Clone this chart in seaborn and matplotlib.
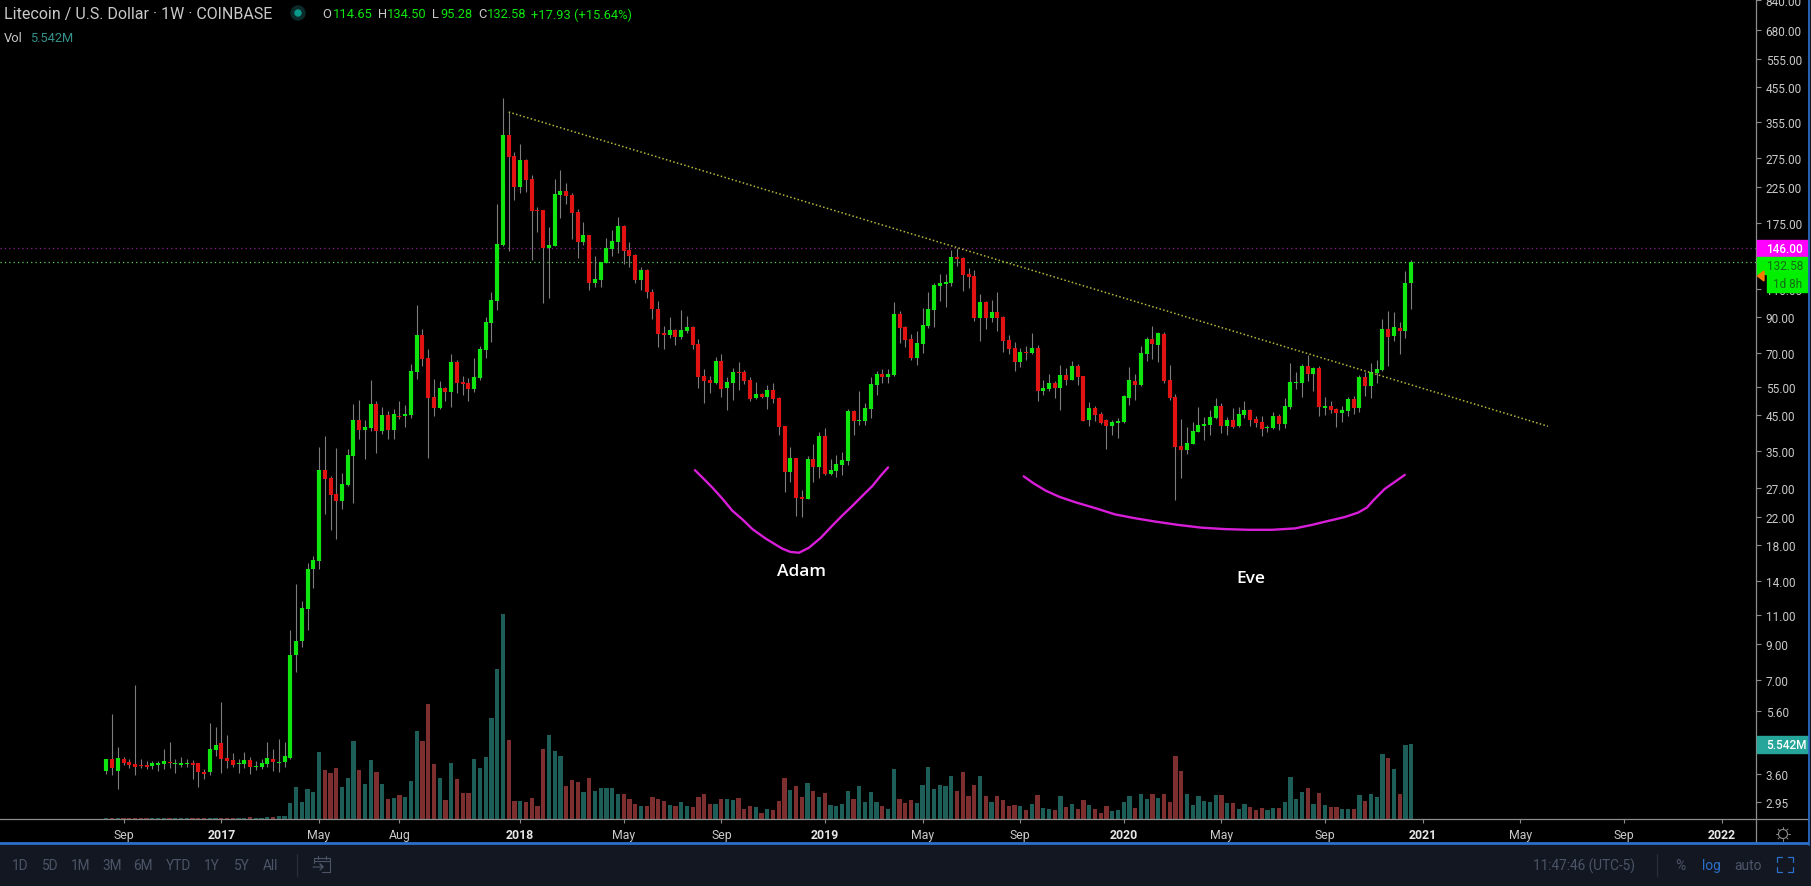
import matplotlib
matplotlib.use("Agg")
import matplotlib.pyplot as plt
import numpy as np
import pandas as pd
import seaborn as sns
from matplotlib.patches import Rectangle, Polygon, Circle

# weekly candles
opens = [3.68,4.00,3.68,4.00,3.92,3.86,3.83,3.83,3.80,3.83,
    3.86,3.92,3.86,3.83,3.86,3.89,3.89,3.65,3.65,4.26,
    4.48,4.03,3.97,3.86,3.86,3.97,3.78,3.78,3.86,4.00,
    3.89,3.92,4.04,8.3,9.2,11.5,15.2,16.1,30.6,28.9,
    25.9,24.6,27.5,33.8,43.5,40.5,41.1,48.6,40.2,45.1,
    40.5,44.9,44.9,45.1,61.0,79.2,67.4,51.2,47.3,54.5,
    53.0,65.5,56.9,56.5,54.1,58.5,71.3,86.2,100.6,149.3,
    324,279.9,224.9,272,238,191.2,191,146,148,213,
    219,213,189,153,160,114,117,132,145,153,
    171,144,139,117,125,107,95,80.4,79.3,82.2,
    78.2,81.6,83.9,74.4,59.4,57.7,56.5,66,54.5,56.5,
    61.1,61.1,57.7,50.8,52.3,51.2,53.8,50.8,41.7,30.2,
    33.3,25.3,25,33.1,31.3,38.9,29.8,30.4,31.7,32.6,
    46.4,43.2,43.2,47,55.7,60.2,58.9,59.8,91.9,83.9,
    77.1,67.4,74.4,84.4,94.6,112,113.5,114.3,137.3,136.4,
    121.8,120.1,89.4,100,89.4,93.2,90,76.5,72.3,65.5,
    70.3,69.8,72.3,53.4,54.2,56.5,54.5,59.8,57.7,63.7,
    59.4,43.5,47.4,45.4,43.5,41.7,42.6,42.9,50.9,57.3,
    55.7,69.3,77.1,73.9,79.8,57.7,51.2,36.2,35.2,36.8,
    40,41.7,42,44.1,48.1,41.7,43.5,41.7,45.1,46.7,
    43.8,42.9,41.2,41.2,44.8,42.3,47.7,56.5,56.5,63.7,
    60.2,62.8,47.4,48.1,47,45.7,46.4,50.5,47.4,59,
    55.3,60.6,61.9,82.7,78.7,83.3,81.5,114.65]
highs = [4.00,5.49,4.34,4.06,4.00,6.74,4.00,3.94,3.94,3.94,
    4.28,4.51,4.00,4.06,4.00,3.97,3.89,3.73,5.16,5.01,
    5.98,4.74,4.17,4.00,4.20,4.06,3.94,4.00,4.51,4.28,
    4.60,4.51,9.9,13.7,12.2,15.9,16.7,36.0,38.9,29.3,
    35.8,30.0,35.5,48.9,50.1,43.5,57.7,49.8,47.9,46.4,
    47.0,49.8,48.3,64.5,97.8,82.6,71.8,58.1,57.3,54.9,
    69.3,66.4,59.3,58.5,67.4,73.3,89.9,107.2,199.4,421.1,
    380.7,287.9,304.5,274,244.8,195.4,191,170,238,253,
    232,216,192,176,160,138,133,157,166,182,
    172,153,140,128,126,110,101,84.4,90,82.8,
    94.6,90.6,84.4,77.1,62.4,59.4,67.9,69.3,58.9,62.8,
    65.5,61.9,58.9,56.9,52.6,55.7,56.5,51.2,41.7,36,
    33.3,26.6,33.8,36.8,40,41.1,33.1,34,34.8,47,
    46.7,53.4,49.1,58.9,61.5,62.4,62.4,100,93.9,84.4,
    79.9,81.6,95.9,107.3,114.4,121.8,121.8,144.3,146.3,137.3,
    127.1,125.3,105.8,100.7,101.4,107.3,90.6,79.3,75.4,72.3,
    73.3,80.4,73.9,57.7,60.2,57.3,64.2,62.8,66,64.6,
    59.4,49.5,48.1,46.1,43.8,43.5,44.1,51.9,63.2,60.2,
    73.3,78.2,84.5,81,81,64.2,52.3,43.8,41.4,42.9,
    47.7,44.4,46.7,50.9,49.1,44.4,47.4,47.7,49.8,47,
    44.8,44.8,42,46.1,45.4,50.9,65.1,61.1,64.6,68.8,
    63.2,63.7,51.2,49.8,47.4,48.1,51.2,51.6,59.8,61.1,
    65.1,66.5,88.7,93.9,93.2,86.9,124.4,134.5]
lows = [3.60,3.57,3.24,3.83,3.75,3.57,3.75,3.73,3.73,3.68,
    3.73,3.75,3.63,3.78,3.78,3.47,3.28,3.47,3.57,4.08,
    3.63,3.75,3.78,3.63,3.75,3.60,3.70,3.73,3.78,3.68,
    3.65,3.78,3.99,7.4,8.8,9.9,13.3,15.3,22.4,20.1,
    18.9,23.2,27.3,24.2,38.0,33.0,40.2,34.5,39.4,38.0,
    38.0,43.8,41.4,44.1,58.1,63.7,33.3,44.8,47.0,49.8,
    47.7,52.6,51.9,49.8,53.0,57.7,67.4,75.4,94.5,148.4,
    143.3,205.2,215.6,217.2,134.5,163.4,99.3,103,148,181,
    200,156,136,149,109,111,111,132,138,141,
    131,128,114,109,103,89,73,71.8,77.6,73.9,
    77.1,80.4,71.8,54.5,49.1,52.6,56.1,51.2,46.7,50.1,
    53.8,56.1,49.8,50.5,50.8,47,49.1,39.2,26.2,28.1,
    22.1,22,25,28.1,28.9,29.5,29.5,29.1,29.5,31.7,
    39.2,42,42,44.2,51.9,56.5,56.5,59.4,74.9,72.8,
    66.5,64.2,69.8,83.3,83.9,100.7,96.6,112,128.9,108.1,
    110.4,87.5,76,82.7,86.9,81.5,70.3,69.3,61.5,63.2,
    66.5,69.3,49.8,51.9,53.4,50.9,46.7,55.7,57.7,55.7,
    43.2,41.7,43.2,42.3,35.5,39.2,38.4,42.6,48.4,50.2,
    55.3,66,66.9,65.5,56.5,50.2,24.8,28.9,34.2,36.8,
    40,37.8,39.2,43.8,39.7,39.2,41.2,41.4,44.1,41.7,
    41.4,38.9,40,40.9,40.6,41.2,47,54.2,51.2,57.3,
    53.4,44.8,45.1,45.7,41.4,42.9,44.8,45.4,46.1,51.6,
    50.9,56.5,61.5,63.7,76,69.3,77.6,95.28]
closes = [4.00,3.75,4.03,3.89,3.83,3.78,3.80,3.78,3.89,3.89,
    3.94,3.89,3.89,3.89,3.89,3.83,3.65,3.60,4.29,4.41,
    4.00,3.94,3.83,3.89,3.97,3.78,3.80,3.89,4.03,3.92,
    3.92,4.08,8.3,9.2,11.6,15.3,16.2,30.6,28.7,25.7,
    24.6,27.7,34.0,43.5,40.6,41.4,48.6,40.2,45.1,40.5,
    45.4,44.6,45.4,61.5,79.2,66.9,50.8,47.3,54.5,53.0,
    65.5,56.5,56.1,54.1,58.9,71.8,86.8,101.4,150.4,324.4,
    277.9,224.9,272.1,236.3,189.9,189.9,146,149,214,219,
    211,187,153,160,114,117.6,133,146,154,171,
    143,138,117,125,107,95,80,79.3,82.2,78.2,
    82.2,83.9,73.9,58.9,57.3,56.5,66,54.2,56.9,61.1,
    60.6,57.3,50.5,52.3,51.2,53.8,50.5,41.4,30.2,33.3,
    25.1,25,33.1,31.3,38.9,29.8,30.6,31.9,32.9,46.4,
    43.2,43.6,47.4,56.1,60.2,58.9,60.2,91.9,83.3,76.5,
    67.4,74.9,85.1,95.2,112.7,114.4,115.1,137.3,135.4,121,
    119.3,89.4,100,89.4,93.2,89.4,76,71.8,65.5,70.3,
    69.8,72.3,53.4,54.5,56.5,54.5,59.8,57.7,63.7,59,
    43.2,47.4,45.1,42.6,41.7,42.9,43.2,51.6,57.7,55.7,
    69.8,77.1,74.4,80.4,57.3,50.9,36,35.2,37,40.3,
    42,42.3,44.4,48.1,41.7,43.5,41.4,45.4,46.7,43.5,
    42.6,40.9,41.4,44.8,42.3,48.1,56.9,56.9,63.7,60.2,
    62.8,47.7,48.1,46.7,45.7,46.7,50.5,47.4,59,55.3,
    61.1,62.4,82.7,78.2,83.9,81.5,114.3,132.58]
volumes = [.07,.07,.05,.07,.07,.07,.05,.05,.05,.05,
    .05,.05,.05,.07,.05,.05,.07,.07,.07,.07,
    .07,.05,.07,.07,.07,.17,.07,.1,.15,.17,
    .25,.25,1.21,2.39,1.28,2.24,2.02,4.98,3.65,3.42,
    3.79,2.39,3.05,5.79,3.65,2.61,4.38,3.5,2.61,1.5,
    1.58,1.8,1.65,2.83,6.53,5.79,8.52,4.09,3.05,1.43,
    4.16,2.98,1.95,1.95,4.46,3.79,4.61,7.49,11.11,15.17,
    5.86,1.35,1.35,1.28,1.58,.99,5.2,6.23,5.05,4.68,
    2.46,2.91,2.76,2.02,3.05,2.09,2.32,2.32,2.32,1.87,
    1.87,1.5,1.13,.99,.99,1.65,1.5,1.35,1.06,.99,
    1.28,.99,.91,1.65,1.87,1.13,1.13,1.5,1.5,1.43,
    1.58,.76,.99,.91,.47,.76,.69,1.35,3.05,2.17,
    2.46,1.65,2.68,2.09,1.65,1.95,1.06,.99,1.13,2.09,
    1.5,2.46,1.28,2.02,1.28,.99,.76,3.72,1.5,1.21,
    1.43,1.21,2.54,3.87,2.24,2.54,2.46,3.2,2.09,3.5,
    1.72,2.54,3.2,1.72,1.28,1.72,1.43,.99,1.06,.99,
    .69,1.13,1.8,.84,.76,.69,1.72,.91,1.13,.76,
    1.43,1.06,.76,.47,.99,.62,.69,1.28,1.72,.84,
    1.87,1.5,1.87,1.58,1.87,1.28,4.68,3.57,1.87,1.06,
    1.72,1.35,1.28,1.8,1.8,1.21,1.21,.76,1.13,.91,
    .69,.84,.69,.84,.84,1.28,3.13,1.5,2.02,2.32,
    1.13,1.95,1.06,.91,.91,.76,.76,.76,1.8,1.35,
    1.87,1.65,4.83,4.53,3.72,1.87,5.49,5.542]

price_ticks = [840, 680, 555, 455, 355, 275, 225, 175, 110, 90, 70, 55, 45, 35, 27, 22, 18, 14, 11, 9, 7, 5.6, 3.6, 2.95]
week_ticks = [4, 21, 38, 52, 73, 91, 108, 126, 143, 160, 178, 195, 213, 230, 247, 265, 282]
week_labels = ["Sep", "2017", "May", "Aug", "2018", "May", "Sep", "2019", "May", "Sep", "2020", "May", "Sep", "2021", "May", "Sep", "2022"]

# drawings on top of the chart
trend_week = [71, 251.8]
trend_price = [381.5, 41.7]
adam_week = [103.4, 105, 106.4, 108.2, 109.9, 111.7, 113.4, 115.7, 118.6, 120, 121.5, 123.2, 125.3, 127.3, 129, 130.8, 132.5, 134.3, 135.7, 137]
adam_price = [30.6, 28.7, 27.1, 25, 23, 21.6, 20.2, 18.9, 17.6, 17.2, 17.1, 17.7, 19, 20.7, 22.2, 23.8, 25.5, 27.4, 29.4, 31.2]
eve_week = [160.6, 162.3, 164.4, 166.7, 169.6, 173.1, 176.5, 180, 183.5, 187.5, 191.6, 195.6, 199.7, 203.8, 207.8, 210.7, 213.6, 216.5, 218.8, 220.3, 221.4, 223.4, 225.2, 226.9]
eve_price = [29.3, 27.9, 26.5, 25.4, 24.4, 23.4, 22.4, 21.8, 21.3, 20.8, 20.4, 20.2, 20.1, 20.1, 20.3, 20.8, 21.4, 22, 22.7, 23.5, 24.7, 26.8, 28.2, 29.6]
line_high = 146.0
line_last = 132.58

W, H = 1811, 887
GREEN = "#0fe60f"
RED = "#e01212"
MAGENTA = "#d81ed8"
GREY_TXT = "#c9c9c9"
BAR_TXT = "#4c5567"
BLUE = "#2a6fc9"

sns.set_theme(style="dark", rc={"figure.facecolor": "black", "axes.facecolor": "black"})
plt.rcParams["font.family"] = ["Roboto", "DejaVu Sans"]

df = pd.DataFrame({"week": np.arange(1, len(opens) + 1), "open": opens, "high": highs,
                   "low": lows, "close": closes, "volume": volumes})
df["side"] = np.where(df["close"] >= df["open"], "up", "down")

fig = plt.figure(figsize=(W / 100, H / 100), dpi=100)
rect = [0, (H - 820) / H, 1756 / W, 820 / H]
xlim = (-17.5, 288)

# volume pane sits under the candles
ax_vol = fig.add_axes(rect)
sns.barplot(data=df, x="week", y="volume", hue="side", palette={"up": "#1d5e58", "down": "#7c2f2e"},
            native_scale=True, dodge=False, width=0.74, legend=False, saturation=1,
            linewidth=0, edgecolor="none", ax=ax_vol)
ax_vol.set_xlim(xlim)
ax_vol.set_ylim(0, 60.6)
ax_vol.axis("off")

ax = fig.add_axes(rect)
ax.patch.set_visible(False)
ax.set_yscale("log")
ax.set_xlim(xlim)
ax.set_ylim(2.62, 846)

ax.vlines(df["week"], df["low"], df["high"], color="#7d7d7d", lw=0.8, zorder=2)
body_colors = [GREEN if s == "up" else RED for s in df["side"]]
ax.vlines(df["week"], df["open"], df["close"], colors=body_colors, lw=3.0, zorder=3)

ax.axhline(line_high, color="#8c1f8c", lw=0.9, ls=(0, (1, 2.5)), zorder=1)
ax.axhline(line_last, color="#5fd35f", lw=0.9, ls=(0, (1, 2.5)), zorder=1)
sns.lineplot(x=trend_week, y=trend_price, color="#b5b53c", lw=1.1, ls=(0, (1, 1.5)), ax=ax, zorder=4)
sns.lineplot(x=adam_week, y=adam_price, color=MAGENTA, lw=1.7, sort=False, estimator=None, ax=ax, zorder=4)
sns.lineplot(x=eve_week, y=eve_price, color=MAGENTA, lw=1.7, sort=False, estimator=None, ax=ax, zorder=4)

ax.text(122, 15.0, "Adam", color="white", fontsize=12.5, fontweight="semibold", family="Open Sans", ha="center", va="center")
ax.text(200.2, 14.3, "Eve", color="white", fontsize=12.5, fontweight="semibold", family="Open Sans", ha="center", va="center")

ax.yaxis.tick_right()
ax.set_yticks(price_ticks)
ax.set_yticklabels([f"{p:.2f}" for p in price_ticks])
ax.minorticks_off()
ax.set_xticks(week_ticks)
ax.set_xticklabels(week_labels)
ax.tick_params(axis="y", colors="#8c8c8c", labelcolor=GREY_TXT, labelsize=8.5, length=3.5, width=0.8, pad=3.5, right=True)
ax.tick_params(axis="x", colors="#8c8c8c", labelcolor=GREY_TXT, labelsize=8.8, length=3, width=0.8, pad=3.5, bottom=True)
for lab, name in zip(ax.get_xticklabels(), week_labels):
    if name.isdigit():
        lab.set_fontweight("bold")
        lab.set_color("#e6e6e6")
ax.set_xlabel("")
ax.set_ylabel("")
for side in ["top", "left"]:
    ax.spines[side].set_visible(False)
for side in ["bottom", "right"]:
    ax.spines[side].set_color("#8c8c8c")
    ax.spines[side].set_linewidth(0.9)

# chrome around the chart in pixel coordinates
ui = fig.add_axes([0, 0, 1, 1], zorder=10)
ui.set_xlim(0, W)
ui.set_ylim(H, 0)
ui.axis("off")
ui.patch.set_visible(False)

# header
ui.text(4, 15, "Litecoin / U.S. Dollar · 1W · COINBASE", color=GREY_TXT, fontsize=11.5, va="center")
ui.add_patch(Circle((298, 14), 7, color="#0c2a2a"))
ui.add_patch(Circle((298, 14), 3, color="#0a9a8c"))
for x, s, c in [(322, "O", GREY_TXT), (333, "114.65", GREEN), (378, "H", GREY_TXT), (387, "134.50", GREEN),
                (432, "L", GREY_TXT), (440, "95.28", GREEN), (478, "C", GREY_TXT), (487, "132.58", GREEN),
                (531, "+17.93 (+15.64%)", GREEN)]:
    ui.text(x, 15, s, color=c, fontsize=9.3, va="center")
ui.text(4, 39, "Vol", color=GREY_TXT, fontsize=9.3, va="center")
ui.text(30, 39, "5.542M", color="#36918a", fontsize=9.3, va="center")

# price labels on the right scale
ui.add_patch(Rectangle((1757, 241), 50, 17, color="#ff00ff"))
ui.text(1766, 249.5, "146.00", color="white", fontsize=8.5, va="center", fontweight="medium")
ui.add_patch(Rectangle((1757, 258), 50, 17, color="#00f000"))
ui.text(1767, 266.5, "132.58", color="#146b14", fontsize=8.5, va="center")
ui.add_patch(Rectangle((1767, 276), 40, 17, color="#00f000"))
ui.text(1773, 284.5, "1d 8h", color="#146b14", fontsize=8.5, va="center")
ui.add_patch(Polygon([[1757.5, 277], [1764, 272], [1764, 282]], color="#f57c00"))
ui.add_patch(Rectangle((1757, 737), 51, 17, color="#26a69a"))
ui.text(1766, 745.5, "5.542M", color="white", fontsize=8.5, va="center", fontweight="medium")

# sun icon
ui.add_patch(Circle((1783, 835), 4.5, fill=False, ec="#8c8c8c", lw=0.8))
for a in np.arange(0, 2 * np.pi, np.pi / 4):
    ui.plot([1783 + 5 * np.cos(a), 1783 + 7 * np.cos(a)], [835 + 5 * np.sin(a), 835 + 7 * np.sin(a)], color="#8c8c8c", lw=0.7)

# frame and toolbar
ui.plot([1756, 1756], [820, 844], color="#8c8c8c", lw=0.9)
ui.plot([1756, 1808], [820, 820], color="#8c8c8c", lw=0.9)
ui.add_patch(Rectangle((0, 845), W, 42, color="#131722", zorder=1))
ui.plot([0, 1809], [844.5, 844.5], color=BLUE, lw=2, zorder=2)
ui.plot([1809, 1809], [0, 845], color=BLUE, lw=2, zorder=2)
ui.add_patch(Rectangle((1810, 0), 1, 887, color="#131722", zorder=2))

for x, s in [(20, "1D"), (50, "5D"), (81, "1M"), (112, "3M"), (143, "6M"), (178, "YTD"), (212, "1Y"), (242, "5Y"), (271, "All")]:
    ui.text(x, 866, s, color=BAR_TXT, fontsize=9.8, ha="center", va="center", zorder=3)
ui.plot([297, 297], [855, 877], color="#2a2e39", lw=0.9, zorder=3)
ui.plot([1657, 1657], [855, 877], color="#2a2e39", lw=0.9, zorder=3)

# go-to-date icon
ui.plot([314, 330, 330, 322], [859, 859, 873, 873], color=BAR_TXT, lw=0.8, zorder=3)
ui.plot([314, 314], [859, 864], color=BAR_TXT, lw=0.8, zorder=3)
ui.plot([314, 330], [862, 862], color=BAR_TXT, lw=0.8, zorder=3)
ui.plot([318, 318], [857, 860], color=BAR_TXT, lw=0.8, zorder=3)
ui.plot([326, 326], [857, 860], color=BAR_TXT, lw=0.8, zorder=3)
ui.plot([313, 323, 320, 323, 320], [868, 868, 865, 868, 871], color=BAR_TXT, lw=0.8, zorder=3)

ui.text(1533, 866, "11:47:46 (UTC-5)", color=BAR_TXT, fontsize=9.8, va="center", zorder=3)
ui.text(1680, 866, "%", color=BAR_TXT, fontsize=10, ha="center", va="center", zorder=3)
ui.text(1711, 866, "log", color=BLUE, fontsize=10, ha="center", va="center", zorder=3)
ui.text(1748, 866, "auto", color=BAR_TXT, fontsize=10, ha="center", va="center", zorder=3)

# fullscreen corners
for xs, ys in [([1777, 1777, 1782], [863, 858, 858]), ([1788, 1793, 1793], [858, 858, 863]),
               ([1777, 1777, 1782], [868, 873, 873]), ([1788, 1793, 1793], [873, 873, 868])]:
    ui.plot(xs, ys, color=BLUE, lw=0.9, zorder=3)

fig.savefig("out.png", dpi=100, facecolor="black")
